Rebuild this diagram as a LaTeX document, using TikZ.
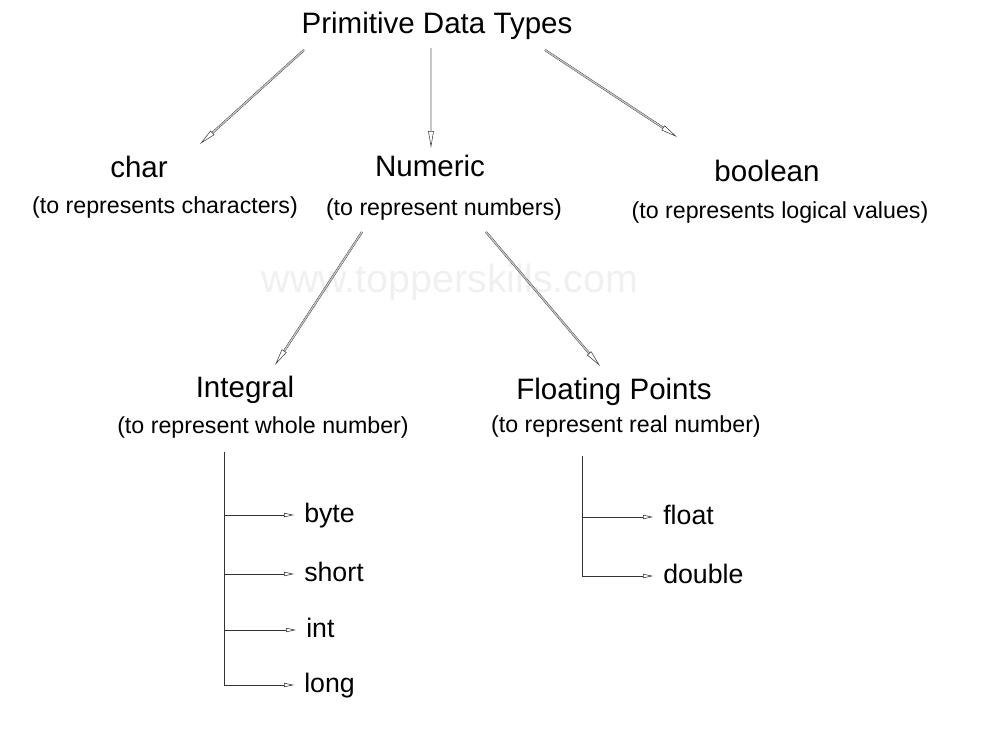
\documentclass[tikz,border=0pt]{standalone}
\usepackage{fontspec}
\setmainfont{Liberation Sans}
\usetikzlibrary{arrows.meta,calc}
\tikzset{
  typenode/.style={anchor=base,inner sep=1pt,font=\fontsize{21}{25}\selectfont},
  notenode/.style={anchor=base,inner sep=1pt,font=\fontsize{16.5}{20}\selectfont},
  leafnode/.style={anchor=west,inner sep=0pt,text height=1.9ex,text depth=0pt,
                   font=\fontsize{19}{22}\selectfont},
  marknode/.style={anchor=base,inner sep=0pt,text=black!6,
                   font=\fontsize{28}{32}\selectfont},
  dblarr/.style={draw=black!75,line width=0.3pt,double=gray!45,double distance=0.9pt,
                 -{Triangle[open,length=12pt,width=4pt,line width=0.4pt]}},
  leafarr/.style={draw=black!80,line width=0.5pt,shorten >=0.25cm,
                  -{Triangle[open,length=7pt,width=3pt,line width=0.4pt]}},
  leafline/.style={draw=black!80,line width=0.5pt}
}
\begin{document}
\begin{tikzpicture}[x=0.025cm,y=-0.025cm]
  \useasboundingbox (0,0) rectangle (1000,750);
  \node[marknode] (mark) at (450,292) {www.topperskills.com};

  \node[typenode] (prim) at (437,33) {Primitive Data Types};
  \node[typenode] (char) at (139,177) {char};
  \node[notenode] (charsub) at (165,213) {(to represents characters)};
  \node[typenode] (num) at (430,176) {Numeric};
  \node[notenode] (numsub) at (444,215) {(to represent numbers)};
  \node[typenode] (bool) at (767,181) {boolean};
  \node[notenode] (boolsub) at (780,218) {(to represents logical values)};
  \node[typenode] (intg) at (245,397) {Integral};
  \node[notenode] (intgsub) at (263,433) {(to represent whole number)};
  \node[typenode] (fp) at (614,399) {Floating Points};
  \node[notenode] (fpsub) at (626,432) {(to represent real number)};

  \draw[dblarr] ([shift={(-133,17)}]prim.base) -- ([shift={(61,-33)}]char.base);
  \draw[dblarr] ([shift={(-6,15)}]prim.base) -- ([shift={(1,-28)}]num.base);
  \draw[dblarr] ([shift={(108,17)}]prim.base) -- ([shift={(-90,-44)}]bool.base);
  \draw[dblarr] ([shift={(-82,17)}]numsub.base) -- ([shift={(30,-32)}]intg.base);
  \draw[dblarr] ([shift={(42,17)}]numsub.base) -- ([shift={(-14,-33)}]fp.base);

  % integral types
  \coordinate (intl) at ([shift={(-39,19)}]intgsub.base);
  \node[leafnode] (byte) at (304,515) {byte};
  \node[leafnode] (short) at (304,574) {short};
  \node[leafnode] (int) at (306,630) {int};
  \node[leafnode] (long) at (304,685) {long};
  \draw[leafline] (intl) -- (intl |- long.west);
  \foreach \t in {byte,short,int,long}
    \draw[leafarr] (intl |- \t.west) -- (\t.west);

  % floating types
  \coordinate (fpl) at ([shift={(-44,24)}]fpsub.base);
  \node[leafnode] (float) at (663,517) {float};
  \node[leafnode] (double) at (663,576) {double};
  \draw[leafline] (fpl) -- (fpl |- double.west);
  \foreach \t in {float,double}
    \draw[leafarr] (fpl |- \t.west) -- (\t.west);
\end{tikzpicture}
\end{document}
